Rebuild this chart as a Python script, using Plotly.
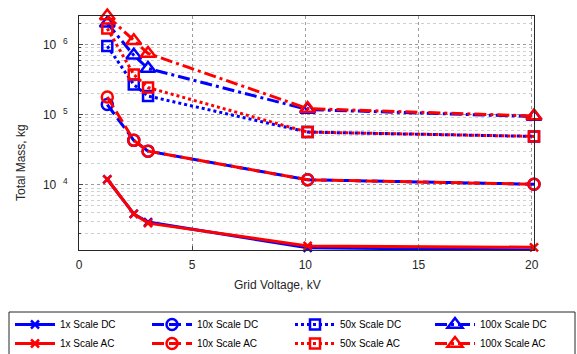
import plotly.graph_objects as go
import math

voltage_kv = [1.25, 2.42, 3.05, 10.1, 20.1]

mass_1x_dc = [1.2e4, 3.85e3, 2.95e3, 1.27e3, 1.18e3]
mass_1x_ac = [1.2e4, 3.85e3, 2.85e3, 1.35e3, 1.29e3]
mass_10x_dc = [1.39e5, 4.3e4, 3.02e4, 1.18e4, 1.02e4]
mass_10x_ac = [1.78e5, 4.3e4, 3.02e4, 1.18e4, 1.02e4]
mass_50x_dc = [9.46e5, 2.68e5, 1.84e5, 5.64e4, 4.9e4]
mass_50x_ac = [1.69e6, 3.73e5, 2.43e5, 5.64e4, 4.9e4]
mass_100x_dc = [2.0e6, 7.0e5, 4.54e5, 1.18e5, 9.4e4]
mass_100x_ac = [2.54e6, 1.13e6, 7.44e5, 1.22e5, 9.55e4]

x_ticks = [0, 5, 10, 15, 20]
y_ticks = [1e4, 1e5, 1e6]
y_ticklabels = ["10\u00a0\u00a0<sup>4</sup>", "10\u00a0\u00a0<sup>5</sup>", "10\u00a0\u00a0<sup>6</sup>"]
y_minor = [m * 10 ** e for e in (3, 4, 5, 6) for m in range(2, 10)]

BLUE = "#0000FF"
RED = "#FF0000"
DASH = "12px,5px"
DOT = "3px,3px"
DASHDOT = "12px,4px,3px,4px"

series = [
    ("1x Scale DC", mass_1x_dc, BLUE, "solid", "x-thin-open", 8, "legend"),
    ("10x Scale DC", mass_10x_dc, BLUE, DASH, "circle-open", 11, "legend2"),
    ("50x Scale DC", mass_50x_dc, BLUE, DOT, "square-open", 10, "legend3"),
    ("100x Scale DC", mass_100x_dc, BLUE, DASHDOT, "triangle-up-open", 13, "legend4"),
    ("1x Scale AC", mass_1x_ac, RED, "solid", "x-thin-open", 8, "legend"),
    ("10x Scale AC", mass_10x_ac, RED, DASH, "circle-open", 11, "legend2"),
    ("50x Scale AC", mass_50x_ac, RED, DOT, "square-open", 10, "legend3"),
    ("100x Scale AC", mass_100x_ac, RED, DASHDOT, "triangle-up-open", 13, "legend4"),
]

fig = go.Figure()
for name, ys, col, dash, sym, size, lg in series:
    fig.add_trace(go.Scatter(
        x=voltage_kv, y=ys, name=name, mode="lines+markers", legend=lg,
        cliponaxis=False,
        line=dict(color=col, width=3, dash=dash),
        marker=dict(symbol=sym, size=size, color=col,
                    line=dict(color=col, width=2.5)),
    ))

font = "Liberation Sans, Arial, sans-serif"
L, R, T, B = 79, 43, 16, 104
W, H = 577, 354
pw, ph = W - L - R, H - T - B

legend_cols = [10, 147, 290, 430]
legend_top = 310


def make_legend(xpx):
    return dict(
        orientation="v", xref="container", yref="container",
        x=xpx / W, y=1 - legend_top / H, xanchor="left", yanchor="top",
        itemwidth=40, borderwidth=0, bgcolor="rgba(0,0,0,0)",
        font=dict(size=10, color="#000000"), tracegroupgap=0,
    )


fig.update_layout(
    width=W, height=H,
    margin=dict(l=L, r=R, t=T, b=B, autoexpand=False),
    paper_bgcolor="white", plot_bgcolor="white",
    font=dict(family=font, size=12, color="#262626"),
    showlegend=True,
    legend=make_legend(legend_cols[0]),
    legend2=make_legend(legend_cols[1]),
    legend3=make_legend(legend_cols[2]),
    legend4=make_legend(legend_cols[3]),
    xaxis=dict(
        range=[0, 20.1], tickvals=x_ticks, ticks="inside", ticklen=4,
        ticklabelstandoff=4,
        showline=True, linecolor="#262626", linewidth=1, mirror=True,
        showgrid=True, gridcolor="#9a9a9a", griddash="dot", gridwidth=1,
        zeroline=False, tickfont=dict(size=12),
    ),
    yaxis=dict(
        type="log", range=[math.log10(1180), math.log10(2.54e6)],
        tickvals=y_ticks, ticktext=y_ticklabels, ticks="inside", ticklen=4,
        ticklabelstandoff=8,
        showline=True, linecolor="#262626", linewidth=1, mirror=True,
        showgrid=True, gridcolor="#9a9a9a", griddash="dot", gridwidth=1,
        minor=dict(tickvals=y_minor, showgrid=True, gridcolor="#d0d0d0",
                   griddash="dot", gridwidth=1, ticks="inside", ticklen=2),
        zeroline=False, tickfont=dict(size=12),
    ),
    shapes=[
        dict(type="rect", xref="paper", yref="paper", layer="below",
             x0=(9 - L) / pw, x1=(575 - L) / pw,
             y0=(H - B - 312) / ph, y1=(H - B - 362) / ph,
             line=dict(color="#262626", width=1), fillcolor="white"),
    ],
    annotations=[
        dict(text="Grid Voltage, kV", xref="paper", yref="paper",
             x=(277 - L) / pw, y=(H - B - 285) / ph, xanchor="center",
             yanchor="middle", showarrow=False, font=dict(size=12)),
        dict(text="Total Mass, kg", xref="paper", yref="paper",
             x=(21 - L) / pw, y=(H - B - 163) / ph, xanchor="center",
             yanchor="middle", textangle=-90, showarrow=False,
             font=dict(size=12)),
    ],
)

fig.write_html("out.html", config={"displayModeBar": False},
               post_script="document.body.style.margin='0px';")
